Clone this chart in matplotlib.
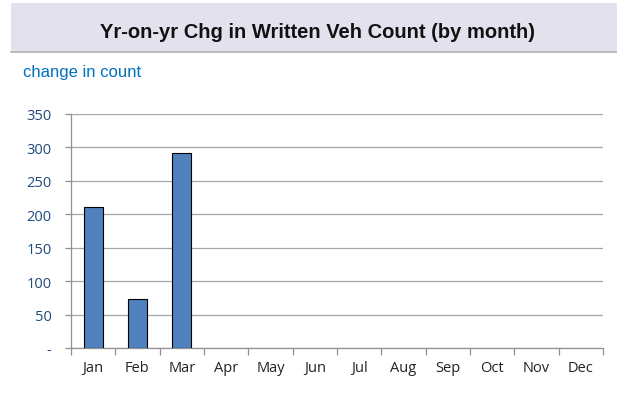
import matplotlib.pyplot as plt
from matplotlib.patches import Rectangle
import numpy as np

months = ["Jan", "Feb", "Mar", "Apr", "May", "Jun", "Jul", "Aug", "Sep", "Oct", "Nov", "Dec"]
values = [211, 74, 291]
yticks = [0, 50, 100, 150, 200, 250, 300, 350]
ytick_labels = ["-", "50", "100", "150", "200", "250", "300", "350"]

W, H = 617, 406
fig = plt.figure(figsize=(W / 100, H / 100), dpi=100)

# title banner
fig.patches.append(Rectangle((11 / W, 1 - 53 / H), 1 - 11 / W, 49 / H,
                             transform=fig.transFigure, facecolor="#E4E1EE",
                             edgecolor="none", zorder=0))
fig.lines.append(plt.Line2D([11 / W, 1], [1 - 53 / H, 1 - 53 / H],
                            transform=fig.transFigure, color="#B0B0B0", lw=1.2))
fig.text(318 / W, 1 - 32 / H, "Yr-on-yr Chg in Written Veh Count (by month)",
         ha="center", va="center", fontsize=14.5, fontweight="bold",
         family="Liberation Sans", color="#111111")
fig.text(23 / W, 1 - 72 / H, "change in count", ha="left", va="center",
         fontsize=12, family="Liberation Sans", color="#0070C0")

ax = fig.add_axes([71 / W, 57 / H, 532 / W, 234 / H])
x = np.arange(len(months))
ax.bar(x[:len(values)], values, width=0.43, color="#4F81BD",
       edgecolor="black", linewidth=0.8, zorder=3)
ax.set_xlim(-0.5, 11.5)
ax.set_ylim(0, 350)
ax.set_yticks(yticks)
ax.set_yticklabels(ytick_labels, color="#1F497D", fontsize=10.5, family="Open Sans")
ax.yaxis.grid(True, color="#A6A6A6", lw=0.9, zorder=0)
ax.set_xticks(x)
ax.set_xticklabels(months, fontsize=10.5, family="Open Sans", color="#222222")
ax.tick_params(axis="x", length=0, pad=9)
ax.set_xticks(np.arange(-0.5, 12, 1), minor=True)
ax.tick_params(axis="x", which="minor", length=5, color="#909090", width=0.9)
ax.tick_params(axis="y", length=4, color="#909090", width=0.9, pad=10)
for s in ["top", "right"]:
    ax.spines[s].set_visible(False)
ax.spines["left"].set_color("#909090")
ax.spines["bottom"].set_color("#909090")
ax.spines["left"].set_linewidth(0.9)
ax.spines["bottom"].set_linewidth(0.9)

fig.savefig("out.png", dpi=100)
